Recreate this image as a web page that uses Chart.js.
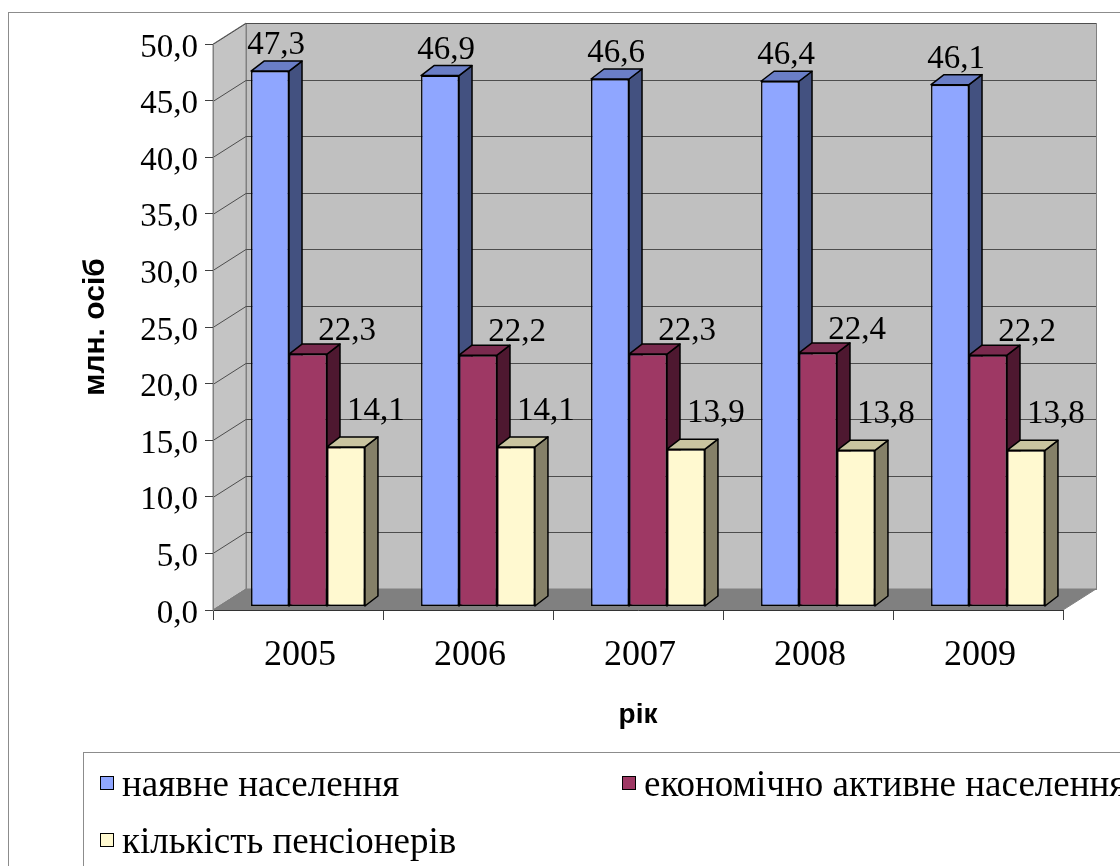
<!DOCTYPE html>
<html>
<head>
<meta charset="utf-8">
<script src="https://cdn.jsdelivr.net/npm/chart.js@4.4.1/dist/chart.umd.min.js"></script>
<style>
  html, body { margin: 0; padding: 0; background: #fff; overflow: hidden; }
  body { width: 1120px; height: 866px; position: relative; }
  #frame { position: absolute; left: 8px; top: 12px; width: 1300px; height: 1000px; border: 1px solid #8c8c8c; }
  #chart { position: absolute; left: 0; top: 0; }
  #legend { position: absolute; left: 83px; top: 752px; width: 1300px; height: 300px; border: 1px solid #8c8c8c;
            font-family: 'Liberation Serif', 'Times New Roman', serif; font-size: 37px; color: #000; }
  .item { position: absolute; display: flex; align-items: center; white-space: nowrap; height: 40px; }
  .box { width: 12px; height: 12px; border: 1.5px solid #000; margin-right: 8px; }
</style>
</head>
<body>
<div id="frame"></div>
<canvas id="chart" width="1120" height="866"></canvas>
<div id="legend"></div>
<script>
var years = ['2005', '2006', '2007', '2008', '2009'];
var seriesNames = ['наявне населення', 'економічно активне населення', 'кількість пенсіонерів'];
var population = [47.3, 46.9, 46.6, 46.4, 46.1];
var activePopulation = [22.3, 22.2, 22.3, 22.4, 22.2];
var pensioners = [14.1, 14.1, 13.9, 13.8, 13.8];

// front / top / side colours of each series
var frontColors = ['#8fa6ff', '#9e3864', '#fff9d0'];
var topColors = ['#6a7ec6', '#7a2a4e', '#c9c4a0'];
var sideColors = ['#435180', '#4e1830', '#858068'];

var WALL_DX = 33, WALL_DY = 21;   // depth of the walls / floor
var BAR_DX = 10, BAR_DY = 3.5;    // bars sit a bit behind the front plane
var D = 13, DD = 10;              // bar depth
var lblDx = [6, 39, 30], lblDy = [-7, -4, -17];

function fmt(v) {
  return Number(v).toFixed(1).replace('.', ',');
}

var walls = {
  id: 'walls',
  beforeDraw: function (chart) {
    var ctx = chart.ctx, a = chart.chartArea, ys = chart.scales.y;
    ctx.save();
    ctx.lineWidth = 1;
    ctx.strokeStyle = '#808080';
    // back wall
    ctx.fillStyle = '#c0c0c0';
    ctx.fillRect(a.left + WALL_DX, a.top - WALL_DY, a.right - a.left, a.bottom - a.top);
    ctx.strokeRect(a.left + WALL_DX + 0.5, a.top - WALL_DY + 0.5, a.right - a.left, a.bottom - a.top);
    // left wall
    ctx.beginPath();
    ctx.moveTo(a.left, a.top);
    ctx.lineTo(a.left + WALL_DX, a.top - WALL_DY);
    ctx.lineTo(a.left + WALL_DX, a.bottom - WALL_DY);
    ctx.lineTo(a.left, a.bottom);
    ctx.closePath();
    ctx.fillStyle = '#c4c4c4';
    ctx.fill();
    ctx.stroke();
    // gridlines
    ctx.strokeStyle = '#4d4d4d';
    ys.ticks.forEach(function (t) {
      var py = Math.round(ys.getPixelForValue(t.value)) + 0.5;
      ctx.beginPath();
      ctx.moveTo(a.left, py);
      ctx.lineTo(a.left + WALL_DX, py - WALL_DY);
      ctx.lineTo(a.right + WALL_DX, py - WALL_DY);
      ctx.stroke();
    });
    // floor
    ctx.beginPath();
    ctx.moveTo(a.left, a.bottom);
    ctx.lineTo(a.left + WALL_DX, a.bottom - WALL_DY);
    ctx.lineTo(a.right + WALL_DX, a.bottom - WALL_DY);
    ctx.lineTo(a.right, a.bottom);
    ctx.closePath();
    ctx.fillStyle = '#808080';
    ctx.fill();
    ctx.strokeStyle = '#808080';
    ctx.stroke();
    ctx.restore();
  },
  beforeDatasetsDraw: function (chart) {
    var ctx = chart.ctx;
    ctx.save();
    ctx.translate(BAR_DX, -BAR_DY);
    ctx.lineWidth = 1.5;
    ctx.strokeStyle = '#000';
    ctx.lineJoin = 'round';
    chart.data.datasets.forEach(function (ds, i) {
      chart.getDatasetMeta(i).data.forEach(function (bar) {
        var p = bar.getProps(['x', 'y', 'base', 'width'], true);
        var l = p.x - p.width / 2, r = p.x + p.width / 2;
        // side
        ctx.beginPath();
        ctx.moveTo(r, p.y);
        ctx.lineTo(r + D, p.y - DD);
        ctx.lineTo(r + D, p.base - DD);
        ctx.lineTo(r, p.base);
        ctx.closePath();
        ctx.fillStyle = sideColors[i];
        ctx.fill();
        ctx.stroke();
        // top
        ctx.beginPath();
        ctx.moveTo(l, p.y);
        ctx.lineTo(l + D, p.y - DD);
        ctx.lineTo(r + D, p.y - DD);
        ctx.lineTo(r, p.y);
        ctx.closePath();
        ctx.fillStyle = topColors[i];
        ctx.fill();
        ctx.stroke();
      });
    });
    ctx.restore();
  },
  beforeDatasetDraw: function (chart) {
    chart.ctx.save();
    chart.ctx.translate(BAR_DX, -BAR_DY);
  },
  afterDatasetDraw: function (chart) {
    chart.ctx.restore();
  },
  afterDatasetsDraw: function (chart) {
    var ctx = chart.ctx;
    ctx.save();
    ctx.translate(BAR_DX, -BAR_DY);
    ctx.font = "33px 'Liberation Serif'";
    ctx.fillStyle = '#000';
    ctx.textAlign = 'center';
    ctx.textBaseline = 'alphabetic';
    chart.data.datasets.forEach(function (ds, i) {
      chart.getDatasetMeta(i).data.forEach(function (bar, j) {
        var p = bar.getProps(['x', 'y'], true);
        ctx.fillText(fmt(ds.data[j]), p.x + lblDx[i], p.y - DD + lblDy[i]);
      });
    });
    ctx.restore();
  }
};

var ctx = document.getElementById('chart').getContext('2d');
var chart = new Chart(ctx, {
  type: 'bar',
  data: {
    labels: years,
    datasets: [population, activePopulation, pensioners].map(function (d, i) {
      return {
        label: seriesNames[i],
        data: d,
        backgroundColor: frontColors[i],
        borderColor: '#000',
        borderWidth: 1.5,
        borderSkipped: false,
        categoryPercentage: 0.67,
        barPercentage: 1.0,
        clip: false
      };
    })
  },
  options: {
    responsive: false,
    animation: false,
    events: [],
    layout: { padding: { left: 78, top: 44, right: 57, bottom: 134 } },
    plugins: { legend: { display: false }, tooltip: { enabled: false } },
    scales: {
      x: {
        grid: { drawOnChartArea: false, tickLength: 10, color: '#404040', offset: true },
        border: { color: '#333', width: 1 },
        ticks: { color: '#000', font: { family: 'Liberation Serif', size: 36 }, padding: 14, labelOffset: 2, maxRotation: 0 },
        title: { display: true, text: 'рік', color: '#000', padding: 0, font: { family: 'Liberation Sans', size: 28, weight: 'bold' } },
        afterFit: function (s) { s.height = 122; }
      },
      y: {
        min: 0,
        max: 50,
        grid: { drawOnChartArea: false, tickLength: 8, color: '#404040' },
        border: { color: '#808080', width: 1 },
        ticks: { stepSize: 5, color: '#000', font: { family: 'Liberation Serif', size: 33 }, padding: 7, labelOffset: 4, callback: function (v) { return fmt(v); } },
        title: { display: true, text: 'млн. осіб', color: '#000', padding: 0, font: { family: 'Liberation Sans', size: 30, weight: 'bold' } },
        afterFit: function (s) { s.width = 135; }
      }
    }
  },
  plugins: [walls]
});

// legend laid out like the original (wider than the page, clipped at the right)
var legendPos = [[16, 10], [538, 10], [16, 67]];
var legend = document.getElementById('legend');
chart.data.datasets.forEach(function (ds, i) {
  var item = document.createElement('div');
  item.className = 'item';
  item.style.left = legendPos[i][0] + 'px';
  item.style.top = legendPos[i][1] + 'px';
  var box = document.createElement('span');
  box.className = 'box';
  box.style.background = ds.backgroundColor;
  item.appendChild(box);
  item.appendChild(document.createTextNode(ds.label));
  legend.appendChild(item);
});
</script>
</body>
</html>
